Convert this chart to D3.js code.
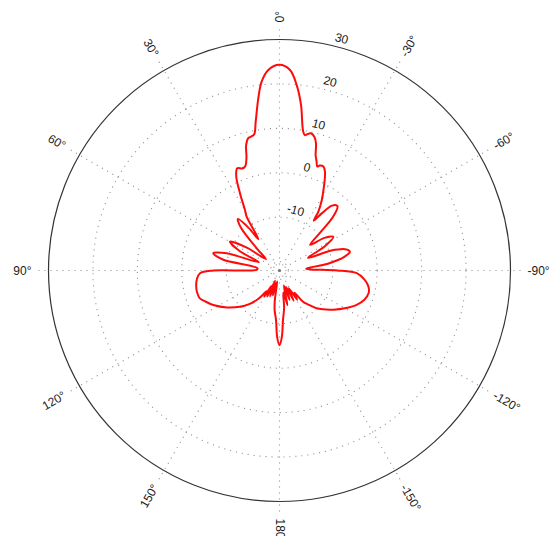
<!DOCTYPE html>
<html>
<head>
<meta charset="utf-8">
<script src="https://cdn.jsdelivr.net/npm/d3@7"></script>
<style>
    html, body { margin: 0; padding: 0; background: #fff; }
    svg { display: block; }
    .angle-label, .ring-label {
        font-family: "Liberation Sans", Arial, Helvetica, sans-serif;
        font-size: 12px;
        fill: #1a1a1a;
    }
</style>
</head>
<body>
<div id="chart"></div>
<script>
// angle in degrees, counter-clockwise from the top (90 = left), gain in dB
var angles = [
    -180, -178, -176, -173, -170, -167, -164, -161, -158, -155, -152, -149, -146, -143, -140,
    -135.5, -130, -126, -120, -114, -109, -104, -100, -96, -92, -90, -88, -86,
    -82, -78, -75, -72, -69, -66, -62, -58, -54, -50, -47, -45, -42, -39, -36.5, -34.5,
    -33.4, -31, -29, -26.5, -24.7, -22.9, -21, -20, -18.7, -17.4, -16, -14.6, -12.9,
    -11.5, -10.7, -9.7, -7.4, -5.3, -3, 0,
    3.2, 5.4, 7, 9.1, 10.5, 12, 13.3, 14.9, 16.3, 17.8, 19, 20.3, 22.5, 24.7, 27.1,
    29.7, 31.4, 32.5, 34, 36, 39, 42, 46, 50, 55, 59.8, 64, 68, 72, 75.4, 79, 84,
    88, 90, 92, 96, 101, 105, 109.3, 113, 117.5, 125, 132.5, 138, 142.3,
    145, 147.5, 150, 152, 154.9, 157, 160, 162.5, 165, 168, 171, 173, 176, 178
];
var gains = [
    -5.2, -7.0, -10.8, -13.5, -17.0, -14.0, -18.5, -15.0, -18.0, -14.5, -17.5, -14.3, -16.0, -13.2, -12.0,
    -10.1, -8.3, -7.0, -5.0, -3.0, -1.8, -1.3, -1.7, -2.8, -4.6, -9.0, -15.0, -16.0,
    -11, -7, -5.6, -6.5, -9.5, -15.0, -10.5, -7.7, -9.5, -13.0, -9.5, -5, -2.5, -3.2, -6.0, -8.4,
    -6.1, -3.5, -1.7, 0.8, 2.5, 3.4, 3.3, 2.9, 4.0, 5.2, 7.8, 9.1, 9.7,
    9.3, 9.0, 9.7, 15.6, 19.9, 23.2, 24.3,
    23.2, 20.7, 17.1, 11.9, 9.2, 8.8, 8.6, 7.2, 4.5, 2.9, 2.5, 2.5, 2.9, 1.3, -2.5,
    -6.3, -7.8, -11.5, -13.5, -10, -7.1, -9, -15, -18, -13, -9.1, -12, -17, -9.5, -6.6, -9, -17,
    -16.9, -7.1, -4.1, -3.3, -2.9, -2.8, -3.0, -4.0, -5.2, -7.5, -9.9, -11.8, -13.6,
    -15.0, -16.5, -15.2, -18.0, -15.5, -19.5, -15.8, -19.0, -16.2, -19.5, -15.3, -13.0, -10.8, -7.0
];

var ring_values = [-20, -10, 0, 10, 20];
var ring_labels = [-10, 0, 10, 20, 30];
var outer_value = 30;
var spoke_angles = [0, 30, 60, 90, 120, 150, 180, -150, -120, -90, -60, -30];

var width = 554, height = 536;
var cx = 279.5, cy = 270.5;
var outer_radius = 231;

var svg = d3.select('#chart').append('svg')
    .attr('width', width)
    .attr('height', height);

var g = svg.append('g')
    .attr('transform', 'translate(' + cx + ',' + cy + ')');

var r = d3.scaleLinear().domain([-22, outer_value]).range([0, outer_radius]);

function to_rad(deg) { return -deg * Math.PI / 180; }

// dotted rings
g.selectAll('.ring')
    .data(ring_values)
    .enter().append('circle')
    .attr('class', 'ring')
    .attr('r', function(d) { return r(d); })
    .attr('fill', 'none')
    .attr('stroke', '#8a8a8a')
    .attr('stroke-width', 1.1)
    .attr('stroke-dasharray', '1,5');

// spokes
g.selectAll('.spoke')
    .data(spoke_angles)
    .enter().append('line')
    .attr('class', 'spoke')
    .attr('x1', 0).attr('y1', 0)
    .attr('x2', function(d) { return 242 * Math.sin(to_rad(d)); })
    .attr('y2', function(d) { return -242 * Math.cos(to_rad(d)); })
    .attr('stroke', '#8a8a8a')
    .attr('stroke-width', 1.1)
    .attr('stroke-dasharray', '1,5');

// outer circle
g.append('circle')
    .attr('r', r(outer_value))
    .attr('fill', 'none')
    .attr('stroke', '#333')
    .attr('stroke-width', 1.2);

g.append('circle')
    .attr('r', 1.6)
    .attr('fill', '#777');

// angle labels, radial, reading left to right
g.selectAll('.angle-label')
    .data(spoke_angles)
    .enter().append('text')
    .attr('class', 'angle-label')
    .attr('dominant-baseline', 'central')
    .attr('text-anchor', function(d) { return (d > 0 && d < 180) ? 'end' : 'start'; })
    .attr('transform', function(d) {
        let a = to_rad(d);
        let x = 248 * Math.sin(a), y = -248 * Math.cos(a);
        let rot = (d > 0 && d < 180) ? 90 - d : -(90 + (d === 180 ? -180 : d));
        return 'translate(' + x + ',' + y + ') rotate(' + rot + ')';
    })
    .text(function(d) { return d + '°'; });

// ring labels
g.selectAll('.ring-label')
    .data(ring_labels)
    .enter().append('text')
    .attr('class', 'ring-label')
    .attr('text-anchor', 'middle')
    .attr('dominant-baseline', 'central')
    .attr('transform', function(d) {
        let a = 15 * Math.PI / 180;
        let rr = r(d) + 9;
        return 'translate(' + (rr * Math.sin(a)) + ',' + (-rr * Math.cos(a)) + ') rotate(15)';
    })
    .text(function(d) { return d; });

// pattern
var pattern = d3.zip(angles, gains);
var line = d3.lineRadial()
    .angle(function(d) { return to_rad(d[0]); })
    .radius(function(d) { return r(d[1]); })
    .curve(d3.curveCatmullRomClosed.alpha(0.5));

g.append('path')
    .datum(pattern)
    .attr('d', line)
    .attr('fill', 'none')
    .attr('stroke', '#ff0a0a')
    .attr('stroke-width', 2);
</script>
</body>
</html>
